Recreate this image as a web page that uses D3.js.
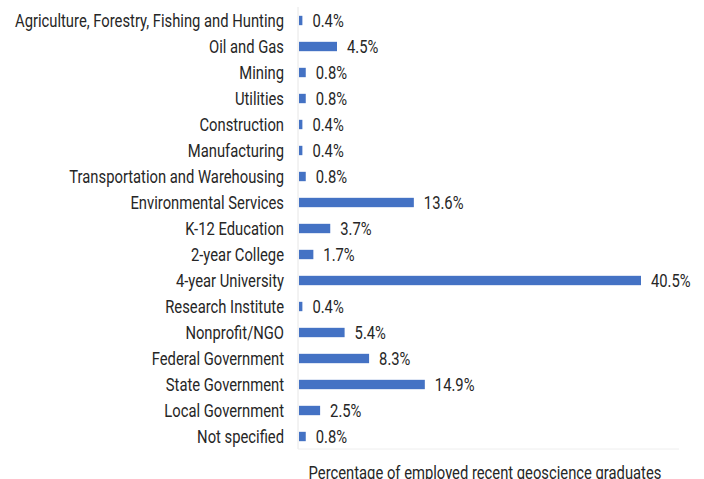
<!DOCTYPE html>
<html>
<head>
<meta charset="utf-8">
<script src="https://cdn.jsdelivr.net/npm/d3@7"></script>
<style>
  html, body { margin: 0; padding: 0; background: #fff; }
  svg { display: block; font-family: Roboto, "Noto Sans", sans-serif; }
</style>
</head>
<body>
<svg id="chart" width="704" height="479"></svg>
<script>
const sectors = [
  "Agriculture, Forestry, Fishing and Hunting",
  "Oil and Gas",
  "Mining",
  "Utilities",
  "Construction",
  "Manufacturing",
  "Transportation and Warehousing",
  "Environmental Services",
  "K-12 Education",
  "2-year College",
  "4-year University",
  "Research Institute",
  "Nonprofit/NGO",
  "Federal Government",
  "State Government",
  "Local Government",
  "Not specified"
];
const shares = [0.4, 4.5, 0.8, 0.8, 0.4, 0.4, 0.8, 13.6, 3.7, 1.7, 40.5, 0.4, 5.4, 8.3, 14.9, 2.5, 0.8];
const axisTitle = "Percentage of employed recent geoscience graduates";

const svg = d3.select("#chart");
const plotLeft = 299, plotRight = 641, plotTop = 7.5, plotBottom = 449.5;
const fontSize = 17.5;
const squeeze = 0.845; // narrow letterforms

const x = d3.scaleLinear().domain([0, 40.5]).range([plotLeft, plotRight]);
const y = d3.scaleBand().domain(sectors).range([plotTop, plotBottom]).paddingInner(0.64).paddingOuter(0.32);

// faint plot frame lines
svg.append("line").attr("x1", plotLeft - 1).attr("x2", plotLeft - 1).attr("y1", 7).attr("y2", 449)
  .attr("stroke", "#e6e6e6").attr("stroke-width", 1);
svg.append("line").attr("x1", plotLeft - 1).attr("x2", 679).attr("y1", 449).attr("y2", 449)
  .attr("stroke", "#eeeeee").attr("stroke-width", 1);

const rows = svg.append("g").selectAll("g").data(sectors).join("g");

rows.append("rect")
  .attr("x", x(0))
  .attr("y", d => y(d))
  .attr("width", (d, i) => x(shares[i]) - x(0))
  .attr("height", y.bandwidth())
  .attr("fill", "#4472c4");

rows.append("text")
  .attr("transform", d => `translate(284,${y(d) + y.bandwidth() / 2}) scale(${squeeze},1)`)
  .attr("dy", "0.35em")
  .attr("text-anchor", "end")
  .attr("font-size", fontSize)
  .attr("fill", "#262626")
  .text(d => d);

rows.append("text")
  .attr("transform", (d, i) => `translate(${x(shares[i]) + 10},${y(d) + y.bandwidth() / 2}) scale(${squeeze},1)`)
  .attr("dy", "0.35em")
  .attr("font-size", fontSize)
  .attr("fill", "#262626")
  .text((d, i) => shares[i].toFixed(1) + "%");

svg.append("text")
  .attr("transform", `translate(485,478.5) scale(${squeeze},1)`)
  .attr("text-anchor", "middle")
  .attr("font-size", fontSize)
  .attr("fill", "#262626")
  .text(axisTitle);
</script>
</body>
</html>
